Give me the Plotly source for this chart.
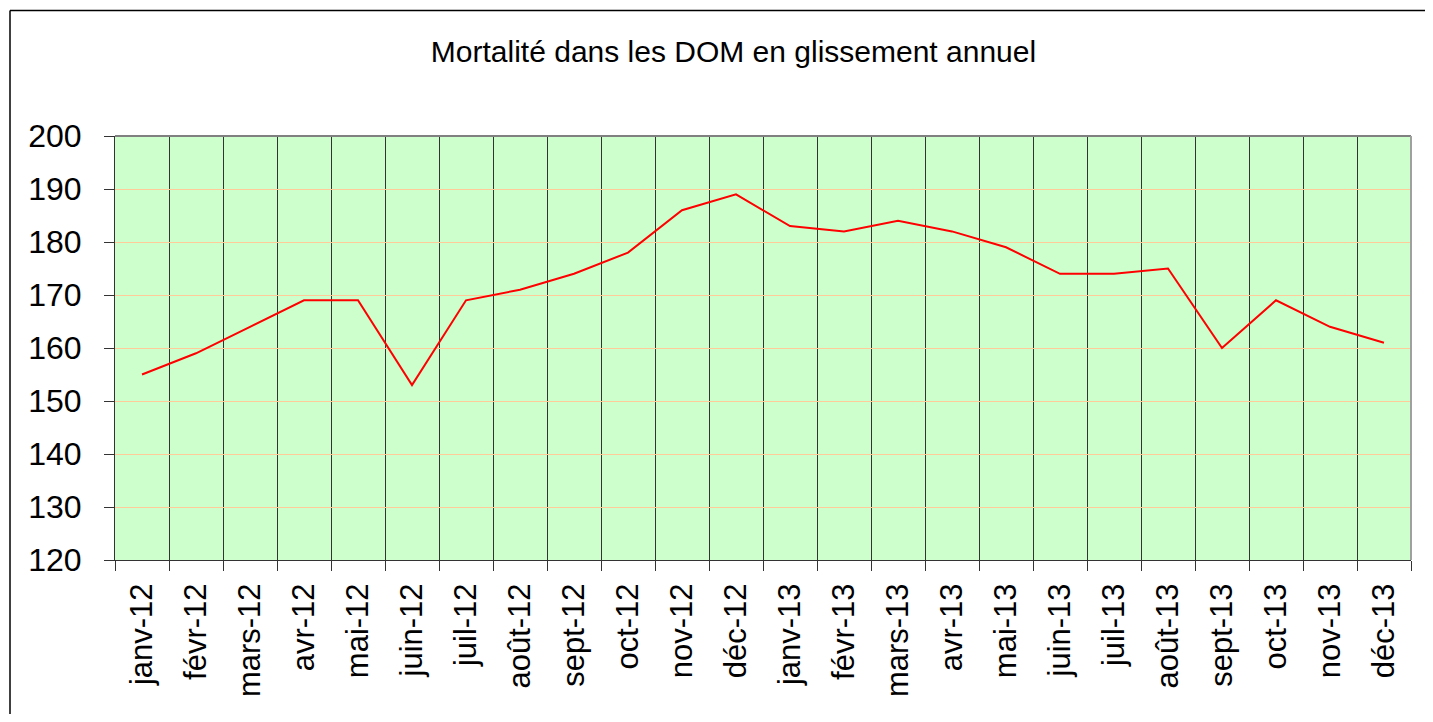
import plotly.graph_objects as go

months = ["janv-12", "févr-12", "mars-12", "avr-12", "mai-12", "juin-12", "juil-12", "août-12",
          "sept-12", "oct-12", "nov-12", "déc-12", "janv-13", "févr-13", "mars-13", "avr-13",
          "mai-13", "juin-13", "juil-13", "août-13", "sept-13", "oct-13", "nov-13", "déc-13"]
mortalite = [155, 159, 164, 169, 169, 153, 169, 171, 174, 178, 186, 189,
             183, 182, 184, 182, 179, 174, 174, 175, 160, 169, 164, 161]
y_ticks = [120, 130, 140, 150, 160, 170, 180, 190, 200]

# page body has an 8px margin, so the figure is sized to fit the window
OFF = 8
W, H = 1433 - 2 * OFF, 722 - 2 * OFF
L, T = 115 - OFF, 136 - OFF
R = W - (1411 - OFF)
B = H - (560 - OFF)
pw, ph = W - L - R, H - T - B

def px(x):
    return (x - OFF - L) / pw

def py(y):
    return (H - B - (y - OFF)) / ph

fig = go.Figure()
fig.add_trace(go.Scatter(x=months, y=mortalite, mode="lines",
                         line=dict(color="#FF0000", width=2), showlegend=False))

fig.update_layout(
    width=W, height=H,
    margin=dict(l=L, r=R, t=T, b=B),
    paper_bgcolor="white",
    plot_bgcolor="#CCFFCC",
    font=dict(family="Liberation Sans, Arial, sans-serif", color="black"),
    title=dict(text="Mortalité dans les DOM en glissement annuel",
               x=(733.5 - OFF) / W, xref="container", xanchor="center",
               y=1 - (51 - OFF) / H, yref="container", yanchor="middle",
               font=dict(size=30, color="black")),
    xaxis=dict(type="category", range=[-0.5, len(months) - 0.5], tickson="boundaries",
               showgrid=True, gridcolor="#333333", gridwidth=1,
               ticks="outside", ticklen=10, tickcolor="#333333", ticklabelstandoff=10,
               tickangle=-90, tickfont=dict(size=31), showline=True, linecolor="#333333",
               linewidth=1, zeroline=False),
    yaxis=dict(range=[120, 200], tickvals=y_ticks, showgrid=True, gridcolor="#FFCC99",
               gridwidth=1, ticks="outside", ticklen=10, tickcolor="#333333",
               ticklabelstandoff=16, tickfont=dict(size=32), showline=True,
               linecolor="#333333", linewidth=1, zeroline=False),
    shapes=[
        dict(type="line", xref="paper", yref="paper", x0=0, x1=1, y0=1, y1=1,
             line=dict(color="#808080", width=2)),
        dict(type="line", xref="paper", yref="paper", x0=1, x1=1, y0=0, y1=1,
             line=dict(color="#A0A0A0", width=2)),
        dict(type="line", xref="paper", yref="paper", x0=px(10), x1=px(1450),
             y0=py(10.5), y1=py(10.5), line=dict(color="black", width=1.5)),
        dict(type="line", xref="paper", yref="paper", x0=px(10), x1=px(10),
             y0=py(10.5), y1=py(740), line=dict(color="black", width=1.5)),
    ],
)

fig.write_html("out.html")
